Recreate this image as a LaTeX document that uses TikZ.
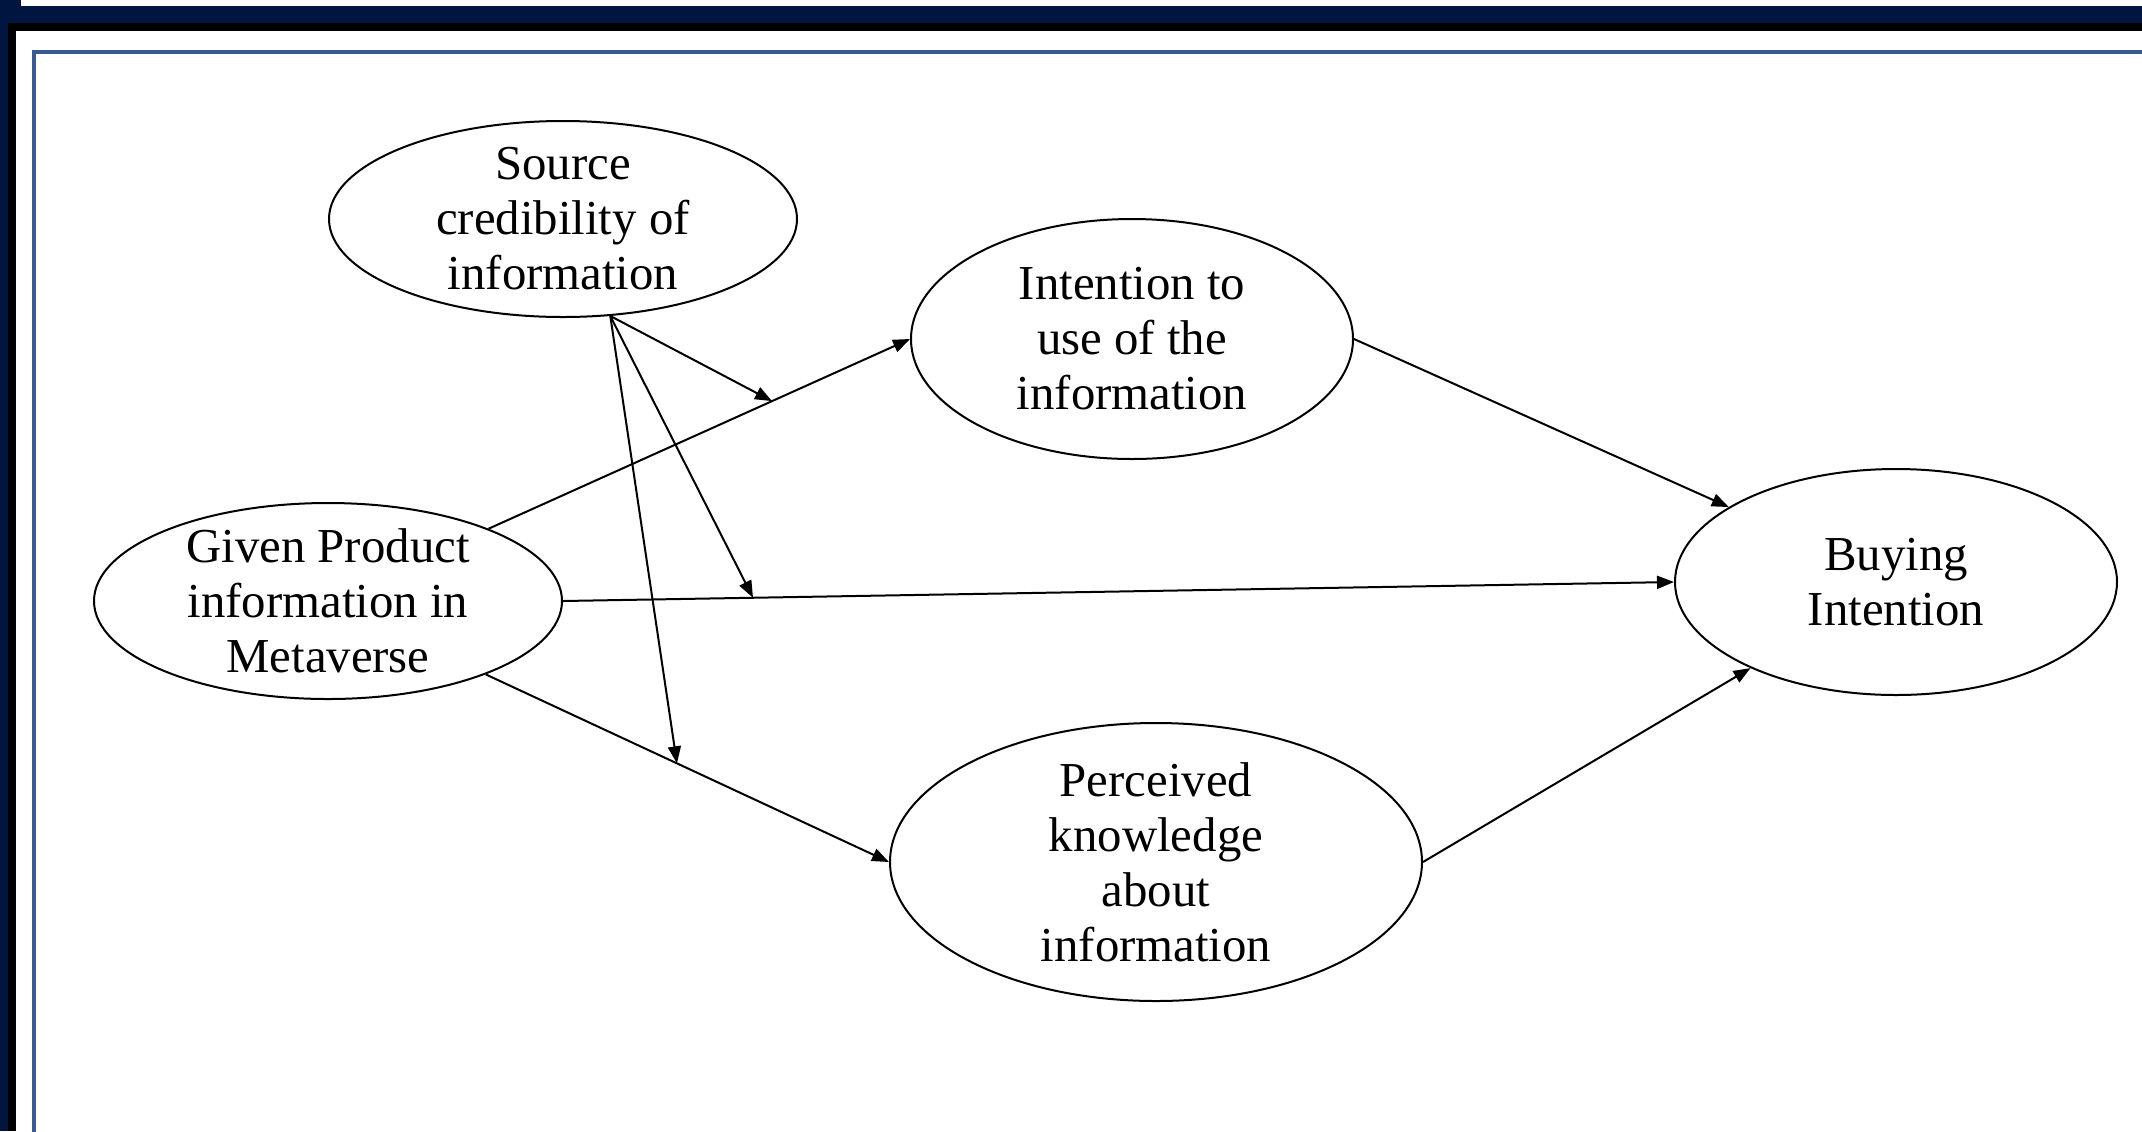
\documentclass[tikz,border=0pt]{standalone}
\usepackage{fontspec}
\setmainfont{Liberation Serif}
\usetikzlibrary{positioning, calc}
\usetikzlibrary{shapes.geometric}
\usetikzlibrary{arrows.meta}

\definecolor{framenavy}{RGB}{0,22,64}
\definecolor{frameblue}{RGB}{58,90,150}

\tikzset{
  construct/.style={draw, ellipse, line width=1pt, align=center,
    inner xsep=0pt, inner ysep=-12pt, font=\fontsize{24.4}{27.5}\selectfont},
  link/.style={->, line width=1pt},
  >={Triangle[length=8.5pt,width=6.5pt]}
}

\begin{document}
\begin{tikzpicture}[x=0.5pt, y=-0.5pt]
            \useasboundingbox (0,0) rectangle (2142,1131);
            \fill[white] (0,0) rectangle (2142,1131);
            \fill[framenavy] (0,6) rectangle (2142,23);
            \fill[framenavy] (0,0) rectangle (21,23);
            \fill[framenavy] (0,0) rectangle (8,1131);
            \fill[black] (8,23) rectangle (2142,31);
            \fill[black] (8,23) rectangle (16,1131);
            \draw[frameblue, line width=2pt] (2150,52) -- (34,52) -- (34,1140);

            \node[construct, minimum width=234pt, minimum height=98pt] (source) at (563,219) {Source\\credibility of\\information};
            \node[construct, minimum width=221pt, minimum height=120pt] (intention) at (1132,339) {Intention to\\use of the\\information};
            \node[construct, minimum width=234pt, minimum height=98pt] (given) at (328,601) {Given Product\\information in\\Metaverse};
            \node[construct, minimum width=221pt, minimum height=113pt] (buying) at (1896,582) {Buying\\Intention};
            \node[construct, minimum width=266pt, minimum height=139pt] (perceived) at (1156,862) {Perceived\\knowledge\\about\\information};

            \draw[link] (given) -- (intention.west);
            \draw[link] (given.east) -- (buying.west);
            \draw[link] (given) -- (perceived.west);
            \draw[link] (intention.east) -- (buying);
            \draw[link] (perceived.east) -- (buying);

            \coordinate (srcfoot) at (source.-64);
            \coordinate (onuse) at ($(given)!0.763!(intention.west)$);
            \coordinate (onbuy) at ($(given.east)!0.171!(buying.west)$);
            \coordinate (onknow) at ($(given)!0.622!(perceived.west)$);
            \foreach \t in {onuse, onbuy, onknow}{
                \draw[link] (srcfoot) -- (\t);
            }
        \end{tikzpicture}
\end{document}
